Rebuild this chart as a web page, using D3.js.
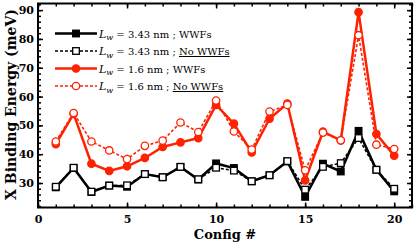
<!DOCTYPE html>
<html>
<head>
<meta charset="utf-8">
<script src="https://cdn.jsdelivr.net/npm/d3@7"></script>
<style>
  body { margin: 0; background: #fff; }
  svg { display: block; }
  .tick text { font-family: "DejaVu Serif", serif; font-weight: bold; font-size: 11px; }
</style>
</head>
<body>
<div class="chart"></div>
<script>
const configs = d3.range(1, 21)
const black_wwf   = [28.5, 35.2, 26.9, 29.1, 28.7, 33.1, 32.0, 35.6, 31.2, 36.8, 35.2, 30.6, 32.7, 37.5, 25.2, 36.7, 34.0, 48.1, 34.6, 27.1]
const black_nowwf = [28.7, 35.3, 27.0, 29.1, 29.2, 33.1, 32.0, 35.6, 31.3, 35.3, 34.3, 30.6, 32.7, 37.6, 27.7, 35.6, 36.9, 45.6, 34.6, 28.0]
const red_wwf     = [43.5, 54.0, 36.7, 34.2, 35.8, 38.7, 42.5, 44.1, 45.6, 57.1, 50.6, 40.6, 52.3, 57.6, 30.9, 47.8, 44.8, 89.3, 47.0, 39.5]
const red_nowwf   = [44.4, 54.3, 44.4, 41.3, 38.3, 42.9, 44.7, 51.0, 47.7, 58.6, 47.9, 41.6, 54.8, 57.1, 34.4, 47.5, 44.8, 81.3, 43.3, 41.8]
const xTicks = [0, 5, 10, 15, 20]
const yTicks = [30, 40, 50, 60, 70, 80, 90]
const legendLabels = ["3.43 nm ; ", "3.43 nm ; ", "1.6 nm ; ", "1.6 nm ; "]

const width = 415
const height = 244
const margin = { top: 3.5, right: 3, bottom: 36.5, left: 38 }
const red = "#ff2200"

const svg = d3.select(".chart")
  .append("svg")
  .attr("width", width)
  .attr("height", height)

const xScale = d3.scaleLinear()
  .domain([0, 21])
  .range([margin.left, width - margin.right])

const yScale = d3.scaleLinear()
  .domain([21.5, 92.3])
  .range([height - margin.bottom, margin.top])

// axes, ticks pointing inward on all four sides
const minorX = d3.range(0, 22, 1)
const minorY = d3.range(22, 93, 2)

const axisBottomG = svg.append("g")
  .attr("transform", `translate(0,${height - margin.bottom})`)
axisBottomG.call(d3.axisBottom(xScale).tickValues(minorX).tickSize(-3).tickFormat(""))
axisBottomG.append("g").call(d3.axisBottom(xScale).tickValues(xTicks).tickSize(-5).tickPadding(8))

const axisTopG = svg.append("g")
  .attr("transform", `translate(0,${margin.top})`)
axisTopG.call(d3.axisTop(xScale).tickValues(minorX).tickSize(-3).tickFormat(""))
axisTopG.append("g").call(d3.axisTop(xScale).tickValues(xTicks).tickSize(-5).tickFormat(""))

const axisLeftG = svg.append("g")
  .attr("transform", `translate(${margin.left},0)`)
axisLeftG.call(d3.axisLeft(yScale).tickValues(minorY).tickSize(-3).tickFormat(""))
axisLeftG.append("g").call(d3.axisLeft(yScale).tickValues(yTicks).tickSize(-5).tickPadding(4))

const axisRightG = svg.append("g")
  .attr("transform", `translate(${width - margin.right},0)`)
axisRightG.call(d3.axisRight(yScale).tickValues(minorY).tickSize(-3).tickFormat(""))
axisRightG.append("g").call(d3.axisRight(yScale).tickValues(yTicks).tickSize(-5).tickFormat(""))

svg.selectAll(".domain").remove()
svg.selectAll(".tick line").attr("stroke", "#000").attr("stroke-width", 1.5)

// frame
svg.append("rect")
  .attr("x", margin.left)
  .attr("y", margin.top)
  .attr("width", width - margin.left - margin.right)
  .attr("height", height - margin.top - margin.bottom)
  .attr("fill", "none")
  .attr("stroke", "#000")
  .attr("stroke-width", 2)

// axis labels
svg.append("text")
  .text("Config #")
  .attr("x", (margin.left + width - margin.right) / 2)
  .attr("y", 238.5)
  .attr("text-anchor", "middle")
  .style("font-family", "DejaVu Serif, serif")
  .style("font-weight", "bold")
  .style("font-size", "13px")

svg.append("text")
  .text("X Binding Energy (meV)")
  .attr("transform", `translate(16,${(margin.top + height - margin.bottom) / 2 - 1}) rotate(-90)`)
  .attr("text-anchor", "middle")
  .style("font-family", "DejaVu Serif, serif")
  .style("font-weight", "bold")
  .style("font-size", "14px")

const series = [
  { values: black_wwf, color: "#000", dashed: false, filled: true, shape: "square" },
  { values: black_nowwf, color: "#000", dashed: true, filled: false, shape: "square" },
  { values: red_wwf, color: red, dashed: false, filled: true, shape: "circle" },
  { values: red_nowwf, color: red, dashed: true, filled: false, shape: "circle" }
]

const line = d3.line()
  .x((d, i) => xScale(configs[i]))
  .y(d => yScale(d))

const drawMarker = (g, s, x, y) => {
  if (s.shape === "square") {
    g.append("rect")
      .attr("x", x - 3.3).attr("y", y - 3.3)
      .attr("width", 6.6).attr("height", 6.6)
      .attr("fill", s.filled ? s.color : "#fff")
      .attr("stroke", s.color).attr("stroke-width", 1.3)
  } else {
    g.append("circle")
      .attr("cx", x).attr("cy", y).attr("r", 3.7)
      .attr("fill", s.filled ? s.color : "#fff")
      .attr("stroke", s.color).attr("stroke-width", 1.3)
  }
}

series.forEach(s => {
  const g = svg.append("g")
  g.append("path")
    .datum(s.values)
    .attr("d", line)
    .attr("fill", "none")
    .attr("stroke", s.color)
    .attr("stroke-width", s.dashed ? 1.6 : 2.5)
    .attr("stroke-dasharray", s.dashed ? "3,2" : null)
  s.values.forEach((v, i) => drawMarker(g, s, xScale(configs[i]), yScale(v)))
})

// legend
const legendY = [33.5, 51, 68.5, 86]
series.forEach((s, i) => {
  const g = svg.append("g")
  const y = legendY[i]
  g.append("line")
    .attr("x1", 55).attr("x2", 97)
    .attr("y1", y).attr("y2", y)
    .attr("stroke", s.color)
    .attr("stroke-width", s.dashed ? 1.6 : 2.5)
    .attr("stroke-dasharray", s.dashed ? "3,2" : null)
  drawMarker(g, s, 76, y)
  const t = g.append("text")
    .attr("x", 99)
    .attr("y", y + 4)
    .style("font-family", "DejaVu Serif, serif")
    .style("font-size", "10px")
  t.append("tspan").text("L").style("font-style", "italic").style("font-size", "11px")
  t.append("tspan").text("w").style("font-style", "italic").style("font-size", "8px").attr("dy", 2.5)
  t.append("tspan").text(" = " + legendLabels[i]).attr("dy", -2.5)
  t.append("tspan").text(s.dashed ? "No WWFs" : "WWFs")
    .style("text-decoration", s.dashed ? "underline" : null)
})
</script>
</body>
</html>
